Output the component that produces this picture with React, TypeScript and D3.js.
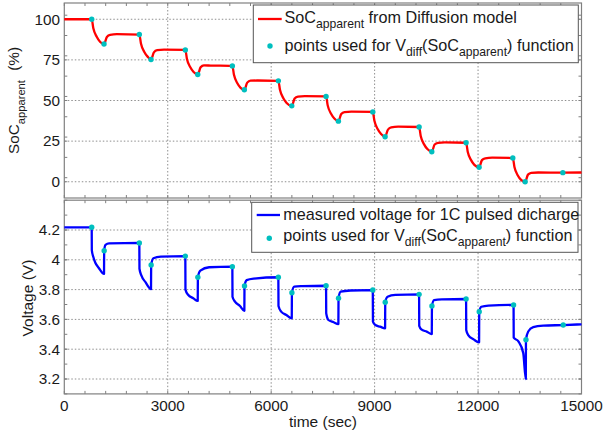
import React from 'react';
import * as d3 from 'd3';

// ---------- data ----------
const timeTicks = [0, 3000, 6000, 9000, 12000, 15000];
const timeTickLabels = ['0', '3000', '6000', '9000', '12000', '15000'];
const socTicks = [0, 25, 50, 75, 100];
const socTickLabels = ['0', '25', '50', '75', '100'];
const voltTicks = [3.2, 3.4, 3.6, 3.8, 4.0, 4.2];
const voltTickLabels = ['3.2', '3.4', '3.6', '3.8', '4', '4.2'];

// SoC_apparent curve from the diffusion model: [time (s), SoC (%)]
const socCurve: [number, number][] = [
  [0, 100], [795, 100], [842, 94.4], [940, 89.2], [1036, 86.2], [1152, 84.8], [1235, 89.1], [1330, 90.4], [1525, 90.8], [2176, 90.6],
  [2223, 85.1], [2321, 79.9], [2416, 77], [2515, 75.2], [2598, 79.6], [2693, 81], [2893, 81.3], [3510, 81.1],
  [3557, 75.6], [3655, 70.4], [3750, 67.5], [3870, 66], [3953, 70.4], [4048, 71.6], [4248, 71.5], [4874, 71.3],
  [4921, 65.8], [5019, 60.6], [5114, 57.8], [5222, 56.6], [5305, 61], [5400, 62.2], [5600, 62.3], [6208, 62.1],
  [6255, 56.6], [6353, 51.4], [6448, 48.5], [6597, 46.7], [6680, 51.2], [6775, 52.4], [6975, 52.7], [7592, 52.5],
  [7639, 47], [7737, 41.8], [7832, 38.9], [7949, 37.3], [8032, 41.7], [8127, 42.9], [8327, 43.2], [8947, 43],
  [8994, 37.5], [9092, 32.3], [9187, 29.4], [9304, 27.7], [9387, 32.1], [9482, 33.4], [9682, 33.9], [10290, 33.7],
  [10337, 28.2], [10435, 23], [10530, 20.1], [10658, 18.5], [10741, 22.9], [10836, 23.9], [11036, 24.2], [11653, 24],
  [11700, 18.5], [11798, 13.3], [11893, 10.4], [12030, 8.9], [12113, 13.3], [12208, 14.4], [12408, 14.8], [13008, 14.6],
  [13055, 9.1], [13153, 3.9], [13248, 1.2], [13365, 0], [13448, 4.4], [13543, 5.5], [13743, 5.7], [14459, 5.6], [15000, 5.7],
];

// points used for V_diff(SoC_apparent) function (top panel)
const socPoints: [number, number][] = [
  [795, 100], [1152, 84.8], [2176, 90.6], [2515, 75.2], [3510, 81.1], [3870, 66], [4874, 71.3], [5222, 56.6],
  [6208, 62.1], [6597, 46.7], [7592, 52.5], [7949, 37.3], [8947, 43], [9304, 27.7], [10290, 33.7], [10658, 18.5],
  [11653, 24], [12030, 8.9], [13008, 14.6], [13365, 0], [14459, 5.6],
];

// measured voltage for 1C pulsed discharge: [time (s), V]
const voltCurve: [number, number][] = [
  [0, 4.218], [795, 4.218],
  [798, 4.065], [840, 4.02], [900, 3.98], [1000, 3.945], [1152, 3.905],
  [1156, 4.061], [1195, 4.1], [1300, 4.11], [2176, 4.113],
  [2180, 3.94], [2235, 3.895], [2355, 3.85], [2515, 3.803],
  [2519, 3.965], [2585, 4.01], [2800, 4.021], [3510, 4.025],
  [3514, 3.8], [3590, 3.765], [3740, 3.742], [3870, 3.724],
  [3874, 3.883], [3945, 3.927], [4200, 3.95], [4874, 3.954],
  [4878, 3.752], [4950, 3.719], [5095, 3.69], [5222, 3.658],
  [5226, 3.824], [5290, 3.864], [5500, 3.874], [6208, 3.883],
  [6212, 3.69], [6290, 3.652], [6440, 3.63], [6597, 3.607],
  [6601, 3.779], [6670, 3.82], [6900, 3.823], [7592, 3.826],
  [7596, 3.641], [7660, 3.596], [7810, 3.581], [7949, 3.569],
  [7953, 3.742], [8015, 3.786], [8300, 3.794], [8947, 3.797],
  [8951, 3.585], [9020, 3.562], [9160, 3.551], [9304, 3.54],
  [9308, 3.715], [9375, 3.752], [9600, 3.764], [10290, 3.768],
  [10294, 3.556], [10355, 3.533], [10510, 3.518], [10658, 3.502],
  [10662, 3.69], [10725, 3.73], [10950, 3.735], [11653, 3.737],
  [11657, 3.529], [11715, 3.495], [11870, 3.466], [12030, 3.446],
  [12034, 3.651], [12095, 3.685], [12300, 3.693], [13030, 3.697],
  [13034, 3.477], [13170, 3.453], [13310, 3.375], [13385, 3.2],
  [13389, 3.463], [13455, 3.519], [13600, 3.548], [13890, 3.558], [14470, 3.562], [15000, 3.567],
];

// points used for V_diff(SoC_apparent) function (bottom panel)
const voltPoints: [number, number][] = [
  [795, 4.218], [1156, 4.061], [2176, 4.113], [2519, 3.965], [3510, 4.025], [3874, 3.883], [4874, 3.954], [5226, 3.824],
  [6208, 3.883], [6601, 3.779], [7592, 3.826], [7953, 3.742], [8947, 3.797], [9308, 3.715], [10290, 3.768], [10662, 3.69],
  [11653, 3.737], [12034, 3.651], [13030, 3.697], [13389, 3.463], [14470, 3.562],
];

// ---------- styling ----------
const FONT = 'Arial, "Liberation Sans", Helvetica, sans-serif';
const AXIS = '#808080';
const GRID = '#8f8f8f';
const TEXT = '#1a1a1a';
const CYAN = '#00bfbf';
const LEG = 16.2;
const SUB = 12.2;

const PL = 64.3, PR = 581.5;
const x = d3.scaleLinear().domain([0, 15000]).range([PL, PR]);
const ySoc = d3.scaleLinear().domain([-10, 110]).range([198, 3]);
const yV = d3.scaleLinear().domain([3.1, 4.4]).range([393.9, 200.2]);

const xMinor = d3.range(0, 15001, 600);
const socMinor = d3.range(-10, 110, 12.5).filter((v) => v > -10);
const voltMinor = d3.range(3.1, 4.41, 0.1);

function Panel({ y, yTicks, yLabels, yMinor }: { y: d3.ScaleLinear<number, number>; yTicks: number[]; yLabels: string[]; yMinor: number[] }) {
  const [y0, y1] = y.range();
  const top = Math.min(y0, y1), bot = Math.max(y0, y1);
  return (
    <g>
      {timeTicks.slice(1, -1).map((t) => (
        <line key={'gx' + t} x1={x(t)} x2={x(t)} y1={top} y2={bot} stroke={GRID} strokeWidth={1} strokeDasharray="1.5,2" />
      ))}
      {yTicks.map((v) => (
        <line key={'gy' + v} x1={PL} x2={PR} y1={y(v)} y2={y(v)} stroke={GRID} strokeWidth={1} strokeDasharray="1.5,2" />
      ))}
      {xMinor.map((t) => (
        <g key={'tx' + t}>
          <line x1={x(t)} x2={x(t)} y1={bot} y2={bot - 3} stroke={AXIS} />
          <line x1={x(t)} x2={x(t)} y1={top} y2={top + 3} stroke={AXIS} />
        </g>
      ))}
      {yMinor.concat(yTicks).map((v, i) => (
        <g key={'ty' + i}>
          <line x1={PL} x2={PL + 3} y1={y(v)} y2={y(v)} stroke={AXIS} />
          <line x1={PR} x2={PR - 3} y1={y(v)} y2={y(v)} stroke={AXIS} />
        </g>
      ))}
      <rect x={PL} y={top} width={PR - PL} height={bot - top} fill="none" stroke={AXIS} strokeWidth={1.2} />
      {yTicks.map((v, i) => (
        <text key={'yl' + v} x={60} y={y(v) + 5.3} textAnchor="end" fontSize={15.3} fill={TEXT} fontFamily={FONT}>
          {yLabels[i]}
        </text>
      ))}
    </g>
  );
}

export default function App() {
  const socLine = d3.line<[number, number]>().x((d) => x(d[0])).y((d) => ySoc(d[1])).curve(d3.curveMonotoneX);
  const voltLine = d3.line<[number, number]>().x((d) => x(d[0])).y((d) => yV(d[1])).curve(d3.curveMonotoneX);

  return (
    <svg width={604} height={437} style={{ position: 'fixed', left: 0, top: 0, background: '#fff' }} fontFamily={FONT}>
      <rect x={0} y={0} width={604} height={437} fill="#fff" />

      <Panel y={ySoc} yTicks={socTicks} yLabels={socTickLabels} yMinor={socMinor} />
      <path d={socLine(socCurve) || ''} fill="none" stroke="#ff0000" strokeWidth={2.3} strokeLinejoin="round" />
      {socPoints.map((p, i) => (
        <circle key={'sp' + i} cx={x(p[0])} cy={ySoc(p[1])} r={2.7} fill={CYAN} />
      ))}

      <Panel y={yV} yTicks={voltTicks} yLabels={voltTickLabels} yMinor={voltMinor} />
      <path d={voltLine(voltCurve) || ''} fill="none" stroke="#0000ff" strokeWidth={2.3} strokeLinejoin="round" />
      {voltPoints.map((p, i) => (
        <circle key={'vp' + i} cx={x(p[0])} cy={yV(p[1])} r={2.7} fill={CYAN} />
      ))}

      {timeTicks.map((t, i) => (
        <text key={'xl' + t} x={x(t)} y={410.7} textAnchor="middle" fontSize={15.3} fill={TEXT}>
          {timeTickLabels[i]}
        </text>
      ))}

      <text x={(PL + PR) / 2} y={427} textAnchor="middle" fontSize={15.5} fill={TEXT}>time (sec)</text>
      <text transform={`translate(32.5,${(yV(4.4) + yV(3.1)) / 2 + 1}) rotate(-90)`} textAnchor="middle" fontSize={15.5} fill={TEXT}>
        Voltage (V)
      </text>
      <text transform={`translate(18.5,${(ySoc(110) + ySoc(-10)) / 2}) rotate(-90)`} textAnchor="middle" fontSize={15.3} fill={TEXT}>
        SoC<tspan dy={6} fontSize={11.2}>apparent</tspan>
        <tspan dy={-6} dx={5}> (%)</tspan>
      </text>

      <g>
        <rect x={253.3} y={5} width={325} height={57.7} fill="#fff" stroke="#555" strokeWidth={1} />
        <line x1={258} x2={281.7} y1={19} y2={19} stroke="#ff0000" strokeWidth={2.3} />
        <text x={284.5} y={23.3} fontSize={LEG} fill={TEXT}>
          SoC<tspan dy={5} fontSize={SUB}>apparent</tspan>
          <tspan dy={-5}> from Diffusion model</tspan>
        </text>
        <circle cx={270} cy={46} r={2.7} fill={CYAN} />
        <text x={284.5} y={50.5} fontSize={LEG} fill={TEXT}>
          points used for V<tspan dy={5} fontSize={SUB}>diff</tspan>
          <tspan dy={-5}>(SoC</tspan>
          <tspan dy={5} fontSize={SUB}>apparent</tspan>
          <tspan dy={-5}>) function</tspan>
        </text>
      </g>

      <g>
        <rect x={251.7} y={202.3} width={326.3} height={50} fill="#fff" stroke="#555" strokeWidth={1} />
        <line x1={256.7} x2={280} y1={215} y2={215} stroke="#0000ff" strokeWidth={2.3} />
        <text x={283.3} y={219.5} fontSize={LEG} fill={TEXT}>measured voltage for 1C pulsed dicharge</text>
        <circle cx={269.3} cy={238.3} r={2.7} fill={CYAN} />
        <text x={283.3} y={241} fontSize={LEG} fill={TEXT}>
          points used for V<tspan dy={5} fontSize={SUB}>diff</tspan>
          <tspan dy={-5}>(SoC</tspan>
          <tspan dy={5} fontSize={SUB}>apparent</tspan>
          <tspan dy={-5}>) function</tspan>
        </text>
      </g>
    </svg>
  );
}
